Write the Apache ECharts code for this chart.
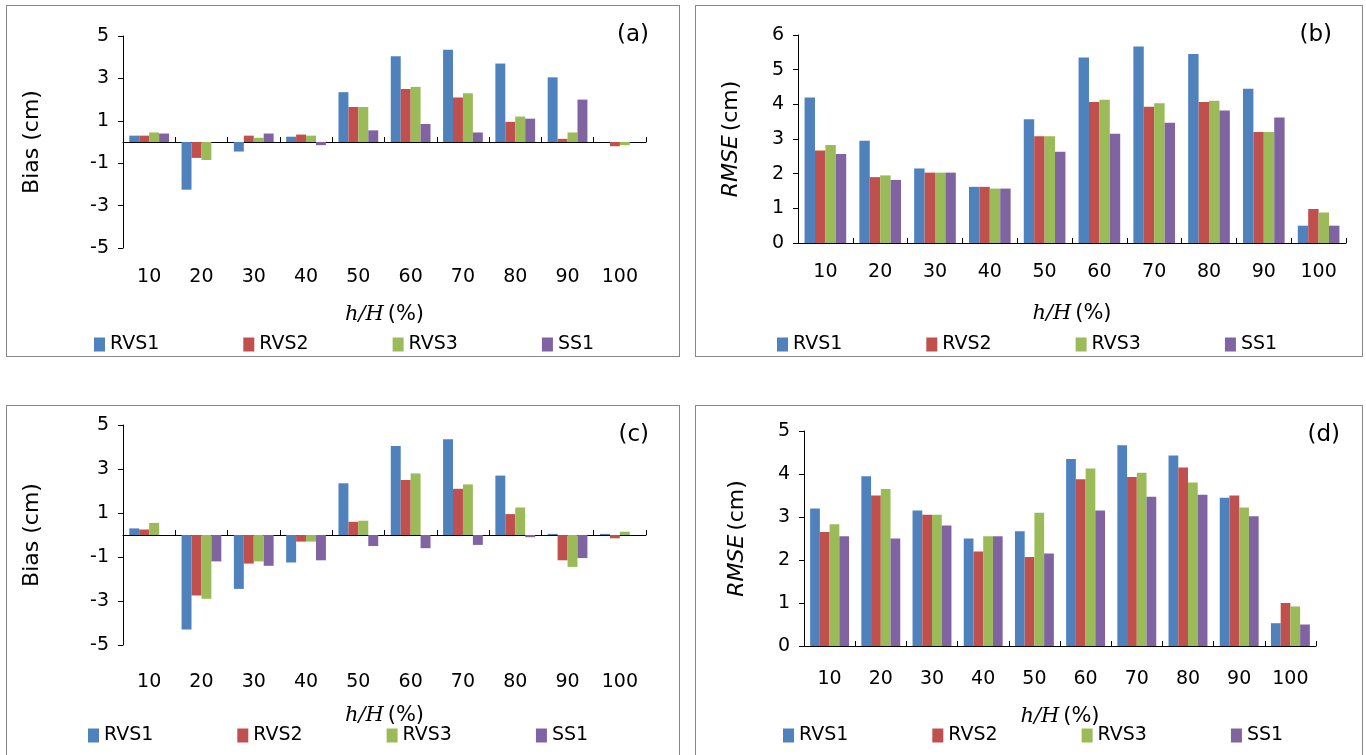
<!DOCTYPE html>
<html>
<head>
<meta charset="utf-8" />
<script src="https://cdn.jsdelivr.net/npm/echarts@6/dist/echarts.min.js"></script>
<style>
    html, body { margin: 0; padding: 0; background: #fff; }
    .panel { position: absolute; border: 1.5px solid #888; box-sizing: border-box; background: #fff; }
</style>
</head>
<body>
<div id="pa" class="panel" style="left:6px;top:5px;width:674px;height:352px"></div>
<div id="pb" class="panel" style="left:695px;top:5px;width:668px;height:352px"></div>
<div id="pc" class="panel" style="left:6px;top:405px;width:674px;height:360px"></div>
<div id="pd" class="panel" style="left:695px;top:405px;width:668px;height:360px"></div>
<script type="text/javascript">
    var categories = ['10', '20', '30', '40', '50', '60', '70', '80', '90', '100'];
    var seriesNames = ['RVS1', 'RVS2', 'RVS3', 'SS1'];
    var colors = ['#4F81BD', '#C0504D', '#9BBB59', '#8064A2'];

    // (a) Bias
    var aRVS1 = [0.3, -2.25, -0.45, 0.25, 2.35, 4.05, 4.35, 3.7, 3.05, 0.0];
    var aRVS2 = [0.3, -0.75, 0.3, 0.35, 1.65, 2.5, 2.1, 0.95, 0.15, -0.2];
    var aRVS3 = [0.45, -0.85, 0.2, 0.3, 1.65, 2.6, 2.3, 1.2, 0.45, -0.15];
    var aSS1 = [0.4, 0, 0.4, -0.15, 0.55, 0.85, 0.45, 1.1, 2.0, 0];
    // (b) RMSE
    var bRVS1 = [4.2, 2.95, 2.15, 1.62, 3.57, 5.35, 5.67, 5.45, 4.45, 0.5];
    var bRVS2 = [2.67, 1.9, 2.03, 1.62, 3.08, 4.07, 3.93, 4.07, 3.2, 0.98];
    var bRVS3 = [2.83, 1.95, 2.03, 1.57, 3.08, 4.13, 4.03, 4.1, 3.2, 0.88];
    var bSS1 = [2.57, 1.82, 2.03, 1.57, 2.63, 3.15, 3.47, 3.82, 3.62, 0.5];
    // (c) Bias
    var cRVS1 = [0.3, -4.3, -2.45, -1.25, 2.35, 4.05, 4.35, 2.7, 0.05, 0.05];
    var cRVS2 = [0.25, -2.75, -1.3, -0.3, 0.6, 2.5, 2.1, 0.95, -1.15, -0.15];
    var cRVS3 = [0.55, -2.9, -1.2, -0.3, 0.65, 2.8, 2.3, 1.25, -1.45, 0.15];
    var cSS1 = [0, -1.2, -1.4, -1.15, -0.5, -0.6, -0.45, -0.1, -1.05, 0];
    // (d) RMSE
    var dRVS1 = [3.2, 3.95, 3.15, 2.5, 2.67, 4.35, 4.67, 4.43, 3.45, 0.53];
    var dRVS2 = [2.65, 3.5, 3.05, 2.2, 2.07, 3.88, 3.93, 4.15, 3.5, 1.0];
    var dRVS3 = [2.83, 3.65, 3.05, 2.55, 3.1, 4.13, 4.03, 3.8, 3.22, 0.92];
    var dSS1 = [2.55, 2.5, 2.8, 2.55, 2.15, 3.15, 3.47, 3.52, 3.02, 0.5];

    var font = 'DejaVu Sans';

    function makeChart(id, data, cfg) {
        var chart = echarts.init(document.getElementById(id));
        var series = [];
        for (var i = 0; i < 4; i++) {
            series.push({
                name: seriesNames[i], type: 'bar', data: data[i],
                xAxisIndex: 0, barGap: '0%', barCategoryGap: '24%',
                itemStyle: { color: colors[i] }
            });
        }
        chart.setOption({
            animation: false,
            textStyle: { fontFamily: font },
            graphic: [{
                type: 'text', right: cfg.tagRight, top: cfg.tagTop,
                style: { text: cfg.tag, font: '23px "DejaVu Sans"', fill: '#000' }
            }],
            legend: {
                bottom: cfg.legendBottom, left: cfg.legendLeft, itemGap: 84,
                icon: 'rect', itemWidth: 11, itemHeight: 14, itemStyle: { borderWidth: 0 },
                textStyle: { fontSize: 19, color: '#000', fontFamily: font },
                data: seriesNames
            },
            grid: cfg.grid,
            xAxis: [{
                type: 'category', data: categories,
                axisLine: { onZero: true, lineStyle: { color: '#000', width: 1 } },
                axisTick: { show: true, length: 5, inside: true, lineStyle: { color: '#000' } },
                axisLabel: { show: false }
            }, {
                type: 'category', data: categories, position: 'bottom',
                axisLine: { show: false }, axisTick: { show: false },
                axisLabel: { margin: cfg.labelMargin, fontSize: 19, color: '#000', fontFamily: font },
                name: '{i|h/H} {n|(%)}', nameLocation: 'middle', nameGap: cfg.nameGap,
                nameTextStyle: { rich: {
                    i: { fontFamily: 'DejaVu Serif', fontStyle: 'italic', fontSize: 21, color: '#000' },
                    n: { fontFamily: font, fontSize: 21, color: '#000' }
                } }
            }],
            yAxis: {
                type: 'value', min: cfg.min, max: cfg.max, interval: cfg.interval,
                splitLine: { show: false },
                axisLine: { show: true, lineStyle: { color: '#000' } },
                axisTick: { show: true, length: 5, lineStyle: { color: '#000' } },
                axisLabel: { fontSize: 19, color: '#000', fontFamily: font, margin: 14 },
                name: cfg.yName, nameLocation: 'middle', nameGap: cfg.yGap,
                nameTextStyle: { rich: {
                    i: { fontFamily: font, fontStyle: 'italic', fontSize: 22, color: '#000' },
                    n: { fontFamily: font, fontSize: 22, color: '#000' }
                } }
            },
            series: series
        });
    }

    makeChart('pa', [aRVS1, aRVS2, aRVS3, aSS1], {
        tag: '(a)', tagRight: 30, tagTop: 18, min: -5, max: 5, interval: 2,
        yName: '{n|Bias (cm)}', yGap: 80, grid: { left: 116, top: 30, width: 523, height: 212 },
        labelMargin: 20, nameGap: 56, legendBottom: -3, legendLeft: 82
    });
    makeChart('pb', [bRVS1, bRVS2, bRVS3, bSS1], {
        tag: '(b)', tagRight: 30, tagTop: 18, min: 0, max: 6, interval: 1,
        yName: '{i|RMSE} {n|(cm)}', yGap: 56, grid: { left: 102, top: 29, width: 548, height: 208 },
        labelMargin: 20, nameGap: 60, legendBottom: -3, legendLeft: 76
    });
    makeChart('pc', [cRVS1, cRVS2, cRVS3, cSS1], {
        tag: '(c)', tagRight: 30, tagTop: 18, min: -5, max: 5, interval: 2,
        yName: '{n|Bias (cm)}', yGap: 80, grid: { left: 116, top: 19, width: 523, height: 220 },
        labelMargin: 28, nameGap: 60, legendBottom: 14, legendLeft: 76
    });
    makeChart('pd', [dRVS1, dRVS2, dRVS3, dSS1], {
        tag: '(d)', tagRight: 22, tagTop: 18, min: 0, max: 5, interval: 1,
        yName: '{i|RMSE} {n|(cm)}', yGap: 56, grid: { left: 108, top: 25, width: 512, height: 215 },
        labelMargin: 24, nameGap: 60, legendBottom: 14, legendLeft: 82
    });
</script>
</body>
</html>
